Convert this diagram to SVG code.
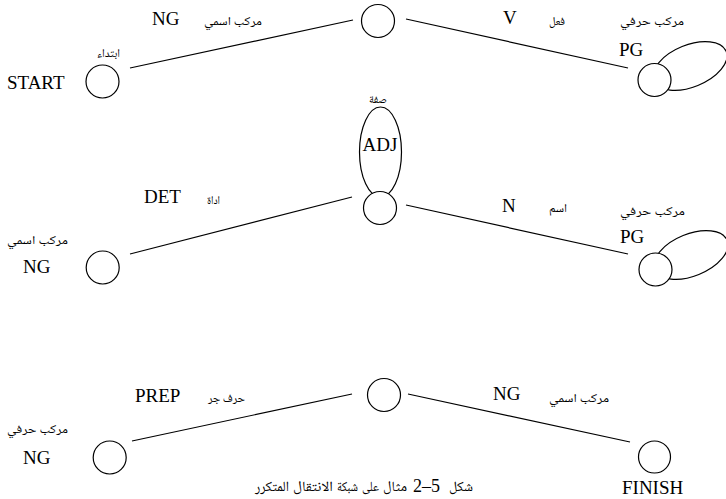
<svg xmlns="http://www.w3.org/2000/svg" width="726" height="499" viewBox="0 0 726 499">
<style>
.st{fill:#fff;stroke:#000;stroke-width:1.2}
.cn{fill:none;stroke:#000;stroke-width:1.2}
.lt{font-family:"Liberation Serif","Times New Roman",serif;font-size:19px;font-weight:normal;fill:#000}
.ar{font-family:"Noto Naskh Arabic","Noto Sans Arabic","DejaVu Sans",sans-serif;font-size:12px;fill:#000}
.cap{font-family:"Noto Naskh Arabic","Noto Sans Arabic","DejaVu Sans",sans-serif;font-size:14px;fill:#000}
</style>
<rect width="726" height="499" fill="#fff"/>
<g id="connectors">
  <line class="cn" x1="130" y1="68" x2="353" y2="20"/>
  <line class="cn" x1="406" y1="19" x2="628" y2="68"/>
  <ellipse class="cn" cx="690" cy="66" rx="39" ry="21" transform="rotate(-22 690 66)"/>
  <ellipse class="cn" cx="380.5" cy="152" rx="21" ry="45"/>
  <line class="cn" x1="130" y1="254" x2="352" y2="197"/>
  <line class="cn" x1="406" y1="205" x2="628" y2="254"/>
  <ellipse class="cn" cx="691" cy="255" rx="39" ry="21" transform="rotate(-22 691 255)"/>
  <line class="cn" x1="132" y1="441" x2="352" y2="394"/>
  <line class="cn" x1="408" y1="394" x2="630" y2="442"/>
  <text class="lt" x="152" y="25">NG</text>
  <text class="ar" x="204" y="25" textLength="58" lengthAdjust="spacingAndGlyphs">مركب اسمي</text>
  <text class="lt" x="503" y="24">V</text>
  <text class="ar" x="549" y="25" textLength="16" lengthAdjust="spacingAndGlyphs">فعل</text>
  <text class="lt" x="619" y="56">PG</text>
  <text class="ar" x="620" y="25" textLength="64" lengthAdjust="spacingAndGlyphs">مركب حرفي</text>
  <text class="ar" x="369" y="103" textLength="18" lengthAdjust="spacingAndGlyphs">صفة</text>
  <text class="lt" x="380" y="151" text-anchor="middle">ADJ</text>
  <text class="lt" x="144" y="203">DET</text>
  <text class="ar" x="207" y="204" textLength="13" lengthAdjust="spacingAndGlyphs">اداة</text>
  <text class="lt" x="502" y="212">N</text>
  <text class="ar" x="549" y="212" textLength="18" lengthAdjust="spacingAndGlyphs">اسم</text>
  <text class="ar" x="620" y="215" textLength="65" lengthAdjust="spacingAndGlyphs">مركب حرفي</text>
  <text class="lt" x="620" y="243">PG</text>
  <text class="lt" x="135" y="402">PREP</text>
  <text class="ar" x="208" y="402" textLength="37" lengthAdjust="spacingAndGlyphs">حرف جر</text>
  <text class="lt" x="493" y="400">NG</text>
  <text class="ar" x="549" y="402" textLength="60" lengthAdjust="spacingAndGlyphs">مركب اسمي</text>
</g>
<g id="start">
  <circle class="st" cx="102.5" cy="81.5" r="16.5"/>
  <text class="lt" x="7" y="89">START</text>
  <text class="ar" x="97" y="57" textLength="23" lengthAdjust="spacingAndGlyphs">ابتداء</text>
</g>
<g id="s1">
  <circle class="st" cx="378" cy="21" r="16.5"/>
</g>
<g id="s2">
  <circle class="st" cx="654.5" cy="80" r="16.5"/>
</g>
<g id="ng">
  <circle class="st" cx="102.7" cy="267.5" r="16.5"/>
  <text class="ar" x="7" y="244" textLength="61" lengthAdjust="spacingAndGlyphs">مركب اسمي</text>
  <text class="lt" x="23" y="273">NG</text>
</g>
<g id="ng1">
  <circle class="st" cx="380" cy="208" r="16.5"/>
</g>
<g id="ng2">
  <circle class="st" cx="655.5" cy="269.5" r="16.5"/>
</g>
<g id="pg">
  <circle class="st" cx="109.7" cy="457.5" r="16.5"/>
  <text class="ar" x="7" y="433" textLength="61" lengthAdjust="spacingAndGlyphs">مركب حرفي</text>
  <text class="lt" x="23" y="464">NG</text>
</g>
<g id="pg1">
  <circle class="st" cx="384" cy="395" r="16.5"/>
</g>
<g id="finish">
  <circle class="st" cx="654.5" cy="457" r="16"/>
  <text class="lt" x="622" y="494">FINISH</text>
</g>
<g id="caption">
  <text class="cap" x="255" y="491" textLength="34" lengthAdjust="spacingAndGlyphs">المتكرر</text>
  <text class="cap" x="293" y="491" textLength="40" lengthAdjust="spacingAndGlyphs">الانتقال</text>
  <text class="cap" x="337" y="491" textLength="21" lengthAdjust="spacingAndGlyphs">شبكة</text>
  <text class="cap" x="362" y="491" textLength="17" lengthAdjust="spacingAndGlyphs">على</text>
  <text class="cap" x="383" y="491" textLength="24" lengthAdjust="spacingAndGlyphs">مثال</text>
  <text class="lt" x="413" y="492" style="font-size:18px">2–5</text>
  <text class="cap" x="449" y="491" textLength="24" lengthAdjust="spacingAndGlyphs">شكل</text>
</g>
</svg>
